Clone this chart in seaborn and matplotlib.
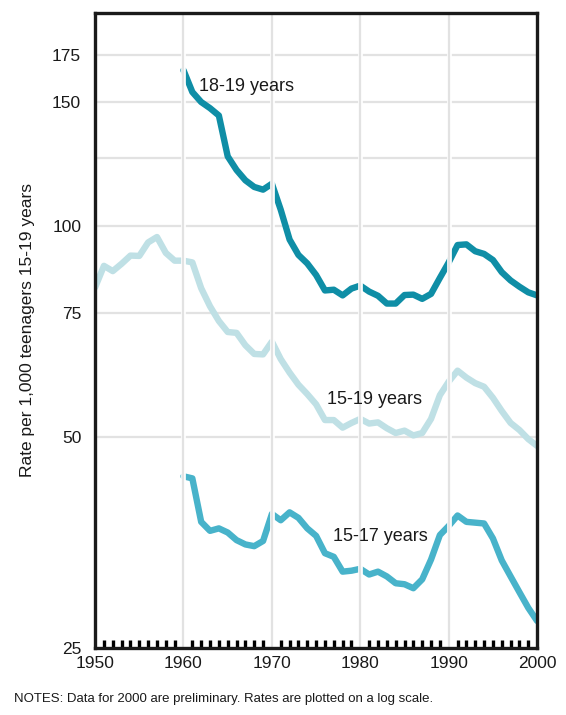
import numpy as np
import matplotlib
matplotlib.use("Agg")
import matplotlib.pyplot as plt
import seaborn as sns

# Birth rates per 1,000 teenagers
years_all = list(range(1950, 2001))
rate_15_19 = [81.6, 87.6, 86.1, 88.2, 90.6, 90.5, 94.6, 96.3, 91.4, 89.1,
              89.1, 88.6, 81.4, 76.7, 73.1, 70.5, 70.3, 67.5, 65.6, 65.5,
              68.3, 64.5, 61.7, 59.3, 57.5, 55.6, 52.8, 52.8, 51.5, 52.3,
              53.0, 52.2, 52.4, 51.4, 50.6, 51.0, 50.2, 50.6, 53.0, 57.3,
              59.9, 62.1, 60.7, 59.6, 58.9, 56.8, 54.4, 52.3, 51.1, 49.6,
              48.5]

years_60 = list(range(1960, 2001))
rate_18_19 = [166.5, 155.0, 150.0, 147.0, 143.5, 125.5, 120.0, 116.0, 113.5, 112.5,
              114.7, 105.3, 95.5, 90.8, 88.3, 85.0, 80.8, 81.0, 79.5, 81.3,
              82.1, 80.5, 79.4, 77.4, 77.4, 79.6, 79.7, 78.6, 79.9, 84.2,
              88.6, 93.8, 94.0, 91.9, 91.1, 89.3, 85.8, 83.5, 81.8, 80.3,
              79.5]
rate_15_17 = [43.9, 43.6, 37.8, 36.7, 37.0, 36.5, 35.6, 35.1, 34.9, 35.5,
              38.8, 38.0, 39.0, 38.3, 37.0, 36.1, 34.1, 33.7, 32.1, 32.2,
              32.4, 31.8, 32.1, 31.6, 30.9, 30.8, 30.4, 31.3, 33.4, 36.2,
              37.3, 38.6, 37.8, 37.7, 37.6, 35.8, 33.3, 31.6, 30.0, 28.5,
              27.3]

ytick_vals = [25, 50, 75, 100, 150, 175]
ygrid_vals = [50, 75, 100, 125, 150, 175]
xtick_vals = [1950, 1960, 1970, 1980, 1990, 2000]

sns.set_style("white")
plt.rcParams['font.family'] = ['Liberation Sans', 'DejaVu Sans']
plt.rcParams['text.color'] = '#1a1a1a'

fig = plt.figure(figsize=(5.66, 7.15), dpi=100)
ax = fig.add_axes([0.168, 0.094, 0.781, 0.888])

grid_col = "#e2e2e2"
for v in ygrid_vals:
    ax.axhline(v, color=grid_col, lw=1.6, zorder=1)

sns.lineplot(x=years_all, y=rate_15_19, ax=ax, color="#bfe0e5", lw=4.6, zorder=3)
sns.lineplot(x=years_60, y=rate_18_19, ax=ax, color="#0f8ea6", lw=4.6, zorder=3)
sns.lineplot(x=years_60, y=rate_15_17, ax=ax, color="#48b3ca", lw=4.6, zorder=3)

# vertical grid drawn over the lines with a narrow white gap around it
for x in [1960, 1970, 1980, 1990]:
    ax.axvline(x, color="white", lw=3.4, zorder=4)
    ax.axvline(x, color=grid_col, lw=1.6, zorder=5)

ax.set_yscale("log")
ax.set_ylim(25, 201)
ax.set_xlim(1950, 2000)
ax.set_yticks(ytick_vals)
ax.set_yticklabels([str(v) for v in ytick_vals])
ax.yaxis.set_minor_locator(matplotlib.ticker.NullLocator())
ax.set_xticks(xtick_vals)
ax.set_xticks(range(1950, 2001), minor=True)
ax.tick_params(axis="y", length=0, labelsize=12.5, pad=10, labelcolor="#1a1a1a")
ax.tick_params(axis="x", which="major", length=0, labelsize=12.5, pad=6, labelcolor="#1a1a1a")
ax.tick_params(axis="x", which="minor", direction="in", length=5.5, width=2.4,
               color="black", bottom=True)

for s in ax.spines.values():
    s.set_color("#1a1a1a")
    s.set_linewidth(2.4)
    s.set_zorder(6)

ax.set_xlabel("")
ax.set_ylabel("Rate per 1,000 teenagers 15-19 years", fontsize=12.5, color="#1a1a1a")
ax.yaxis.set_label_coords(-0.135, 0.5)

ax.text(1961.8, 158, "18-19 years", fontsize=13, va="center", ha="left", zorder=7)
ax.text(1976.2, 56.5, "15-19 years", fontsize=13, va="center", ha="left", zorder=7)
ax.text(1976.9, 36.0, "15-17 years", fontsize=13, va="center", ha="left", zorder=7)

fig.text(0.025, 0.022, "NOTES: Data for 2000 are preliminary. Rates are plotted on a log scale.",
         fontsize=9.5, va="center", ha="left")

fig.savefig("out.png", dpi=100)
